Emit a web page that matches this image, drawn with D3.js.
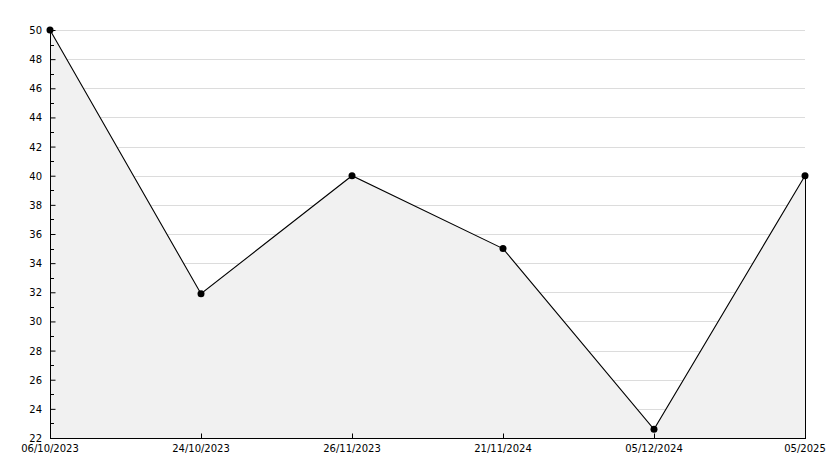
<!DOCTYPE html>
<html><head><meta charset="utf-8">
<script src="https://cdn.jsdelivr.net/npm/d3@7"></script>
<style>body{margin:0;background:#fff}svg{display:block}text{font-family:"DejaVu Sans",sans-serif;font-size:10px;fill:#000}</style>
</head><body><svg id="c" width="834" height="468"></svg>
<script>
const categories = ["06/10/2023","24/10/2023","26/11/2023","21/11/2024","05/12/2024","05/2025"];
const values = [50, 31.9, 40, 35, 22.6, 40];
const yTicks = [22,24,26,28,30,32,34,36,38,40,42,44,46,48,50];

const svg = d3.select("#c");
const L = 50, R = 805, T = 30, B = 438;
const x = d3.scalePoint().domain(categories).range([L, R]);
const y = d3.scaleLinear().domain([22, 50]).range([B, T]);

// grid
svg.append("g").selectAll("line").data(yTicks.filter(d => d !== 22)).join("line")
  .attr("x1", L).attr("x2", R)
  .attr("y1", d => Math.round(y(d)) + 0.5).attr("y2", d => Math.round(y(d)) + 0.5)
  .attr("stroke", "#dcdcdc").attr("stroke-width", 1);

// area
const pts = categories.map((c, i) => [x(c), y(values[i])]);
const area = d3.area().x(d => d[0]).y0(B).y1(d => d[1]);
svg.append("path").datum(pts).attr("d", area)
  .attr("fill", "#f1f1f1").attr("stroke", "none");
svg.append("line").attr("x1", R + 0.5).attr("x2", R + 0.5)
  .attr("y1", y(values[values.length - 1])).attr("y2", B).attr("stroke", "#000");
svg.append("path").datum(pts).attr("d", d3.line())
  .attr("fill", "none").attr("stroke", "#000").attr("stroke-width", 1.1);

// y axis
const yAxis = d3.axisRight(y).tickValues(yTicks).tickSize(5).tickFormat("");
const gy = svg.append("g").attr("transform", `translate(${L + 0.5},0)`).call(yAxis);
gy.select(".domain").remove();
svg.append("line").attr("x1", L + 0.5).attr("x2", L + 0.5).attr("y1", T).attr("y2", B).attr("stroke", "#000");
// minor ticks
const minor = d3.range(23, 50, 2);
svg.append("g").selectAll("line").data(minor).join("line")
  .attr("x1", L).attr("x2", L + 4)
  .attr("y1", d => Math.round(y(d)) + 0.5).attr("y2", d => Math.round(y(d)) + 0.5)
  .attr("stroke", "#000");
svg.append("g").selectAll("text").data(yTicks).join("text")
  .attr("x", 42).attr("y", d => y(d) + 4).attr("text-anchor", "end").text(d => d);

// x axis
const xAxis = d3.axisTop(x).tickSize(5).tickFormat("");
const gx = svg.append("g").attr("transform", `translate(0,${B + 0.5})`).call(xAxis);
gx.select(".domain").remove();
svg.append("line").attr("x1", L).attr("x2", R + 1).attr("y1", B + 0.5).attr("y2", B + 0.5).attr("stroke", "#000");
svg.append("g").selectAll("text").data(categories).join("text")
  .attr("x", d => x(d)).attr("y", 452).attr("text-anchor", "middle").text(d => d);

// markers
svg.append("g").selectAll("circle").data(pts).join("circle")
  .attr("cx", d => d[0]).attr("cy", d => d[1]).attr("r", 3.5).attr("fill", "#000");
</script></body></html>
